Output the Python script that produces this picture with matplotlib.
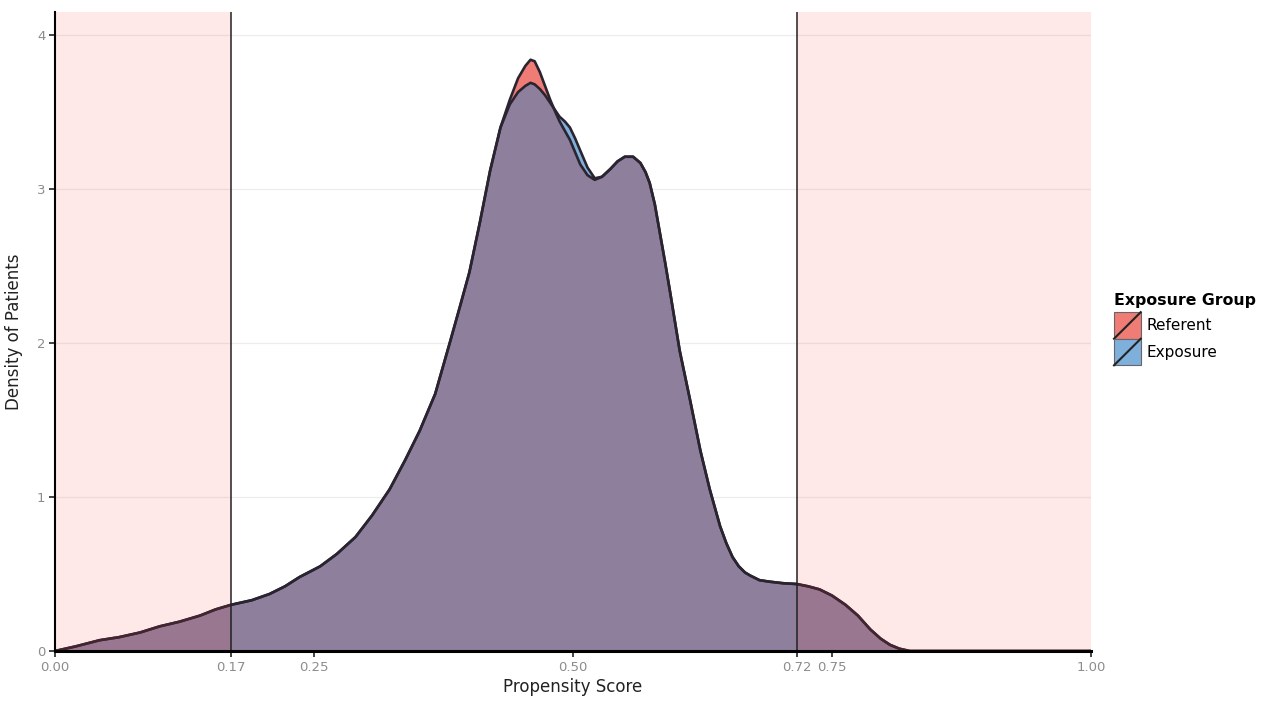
import numpy as np
import matplotlib
matplotlib.use("Agg")
import matplotlib.pyplot as plt
from matplotlib.legend_handler import HandlerBase
from matplotlib.patches import Rectangle, Patch
from matplotlib.lines import Line2D

# Propensity score grid and estimated densities
score = [0.000, 0.020, 0.043, 0.062, 0.082, 0.101, 0.120, 0.140, 0.155, 0.170, 0.190,
         0.207, 0.222, 0.236, 0.256, 0.272, 0.290, 0.306, 0.323, 0.338, 0.352, 0.367,
         0.381, 0.391, 0.400, 0.410, 0.420, 0.430, 0.439, 0.447, 0.454, 0.459, 0.463,
         0.468, 0.473, 0.478, 0.483, 0.487, 0.492, 0.497, 0.502, 0.507, 0.514, 0.521,
         0.528, 0.536, 0.543, 0.550, 0.558, 0.565, 0.570, 0.574, 0.579, 0.584, 0.589,
         0.594, 0.603, 0.613, 0.623, 0.632, 0.642, 0.648, 0.654, 0.660, 0.666, 0.671,
         0.680, 0.690, 0.703, 0.716, 0.727, 0.738, 0.750, 0.763, 0.775, 0.787, 0.797,
         0.806, 0.815, 0.825, 0.840, 1.000]
referent = [0.00, 0.03, 0.07, 0.09, 0.12, 0.16, 0.19, 0.23, 0.27, 0.30, 0.33,
            0.37, 0.42, 0.48, 0.55, 0.63, 0.74, 0.88, 1.05, 1.24, 1.43, 1.67,
            2.00, 2.24, 2.46, 2.78, 3.12, 3.40, 3.58, 3.72, 3.80, 3.84, 3.83,
            3.76, 3.67, 3.58, 3.50, 3.44, 3.38, 3.32, 3.24, 3.16, 3.09, 3.06,
            3.08, 3.13, 3.18, 3.21, 3.21, 3.17, 3.11, 3.04, 2.90, 2.71, 2.52,
            2.32, 1.95, 1.63, 1.30, 1.05, 0.81, 0.70, 0.61, 0.55, 0.51, 0.49,
            0.46, 0.45, 0.44, 0.435, 0.42, 0.40, 0.36, 0.30, 0.23, 0.14, 0.08,
            0.04, 0.015, 0.00, 0.00, 0.00]
exposure = [0.00, 0.03, 0.07, 0.09, 0.12, 0.16, 0.19, 0.23, 0.27, 0.30, 0.33,
            0.37, 0.42, 0.48, 0.55, 0.63, 0.74, 0.88, 1.05, 1.24, 1.43, 1.67,
            2.00, 2.24, 2.46, 2.78, 3.12, 3.40, 3.55, 3.63, 3.67, 3.69, 3.68,
            3.65, 3.61, 3.56, 3.51, 3.47, 3.44, 3.40, 3.33, 3.25, 3.14, 3.07,
            3.08, 3.13, 3.18, 3.21, 3.21, 3.17, 3.11, 3.04, 2.90, 2.71, 2.52,
            2.32, 1.95, 1.63, 1.30, 1.05, 0.81, 0.70, 0.61, 0.55, 0.51, 0.49,
            0.46, 0.45, 0.44, 0.435, 0.42, 0.40, 0.36, 0.30, 0.23, 0.14, 0.08,
            0.04, 0.015, 0.00, 0.00, 0.00]
groups = ["Referent", "Exposure"]
trim_low, trim_high = 0.17, 0.7165
xtick_vals = [0.00, trim_low, 0.25, 0.50, trim_high, 0.75, 1.00]
xtick_labels = ["0.00", "0.17", "0.25", "0.50", "0.72", "0.75", "1.00"]
ytick_vals = [0, 1, 2, 3, 4]

red_vis = "#F07C76"
blue_vis = "#7FB0DC"
overlap = "#8E809D"
grey_txt = "#8C8C8C"

fig = plt.figure(figsize=(12.74, 7.04), dpi=100)
ax = fig.add_axes([55/1274, 53/704, (1091-55)/1274, (651-12)/704])

x = np.array(score)
r = np.array(referent)
e = np.array(exposure)
lo = np.minimum(r, e)
ax.fill_between(x, 0, lo, color=overlap, lw=0, zorder=2)
ax.fill_between(x, e, r, where=r > e, color=red_vis, lw=0, zorder=2, interpolate=True)
ax.fill_between(x, r, e, where=e > r, color=blue_vis, lw=0, zorder=2, interpolate=True)
ax.plot(x, r, color="#2a2430", lw=1.9, zorder=3, solid_joinstyle="round")
ax.plot(x, e, color="#2a2430", lw=1.9, zorder=3, solid_joinstyle="round")

ax.axvspan(0, trim_low, color=(1.0, 0.2, 0.2), alpha=0.11, lw=0, zorder=4)
ax.axvspan(trim_high, 1.0, color=(1.0, 0.2, 0.2), alpha=0.11, lw=0, zorder=4)
ax.axvline(trim_low, color="#222222", lw=1.1, zorder=5)
ax.axvline(trim_high, color="#222222", lw=1.1, zorder=5)

ax.set_xlim(0, 1.0)
ax.set_ylim(0, 4.15)
ax.set_xticks(xtick_vals)
ax.set_xticklabels(xtick_labels)
ax.set_yticks(ytick_vals)
ax.set_yticklabels([str(v) for v in ytick_vals])
ax.yaxis.grid(True, color="#EDEDED", lw=0.9, zorder=0)
ax.set_axisbelow(True)
for s in ["top", "right"]:
    ax.spines[s].set_visible(False)
ax.spines["left"].set_linewidth(1.5)
ax.spines["bottom"].set_linewidth(2.2)
ax.spines["left"].set_zorder(6)
ax.spines["bottom"].set_zorder(6)
ax.tick_params(axis="both", colors="#222222", labelcolor=grey_txt, labelsize=9.5,
               length=4, width=1.2, pad=3)
ax.set_xlabel("Propensity Score", fontsize=12, color="#222222", labelpad=3)
ax.set_ylabel("Density of Patients", fontsize=12, color="#222222", labelpad=10)


class DiagHandler(HandlerBase):
    def create_artists(self, legend, orig_handle, xdescent, ydescent, width, height, fontsize, trans):
        rect = Rectangle((-xdescent, -ydescent), width, height, facecolor=orig_handle.get_facecolor(),
                         edgecolor="#666666", lw=0.8, transform=trans)
        line = Line2D([-xdescent, -xdescent + width], [-ydescent, -ydescent + height],
                      color="#222222", lw=1.5, transform=trans)
        return [rect, line]


handles = [Patch(facecolor=red_vis), Patch(facecolor=blue_vis)]
leg = fig.legend(handles, groups, handler_map={Patch: DiagHandler()},
                 title="Exposure Group", loc="upper left", bbox_to_anchor=(1114/1274, 1 - 293/704),
                 frameon=False, fontsize=11, title_fontsize=11.3, handlelength=1.75,
                 handleheight=2.3, handletextpad=0.35, labelspacing=0.0, borderaxespad=0,
                 borderpad=0)
leg.get_title().set_fontweight("bold")
leg._legend_box.align = "left"
leg._legend_box.sep = 3

fig.savefig("out.png", dpi=100)
